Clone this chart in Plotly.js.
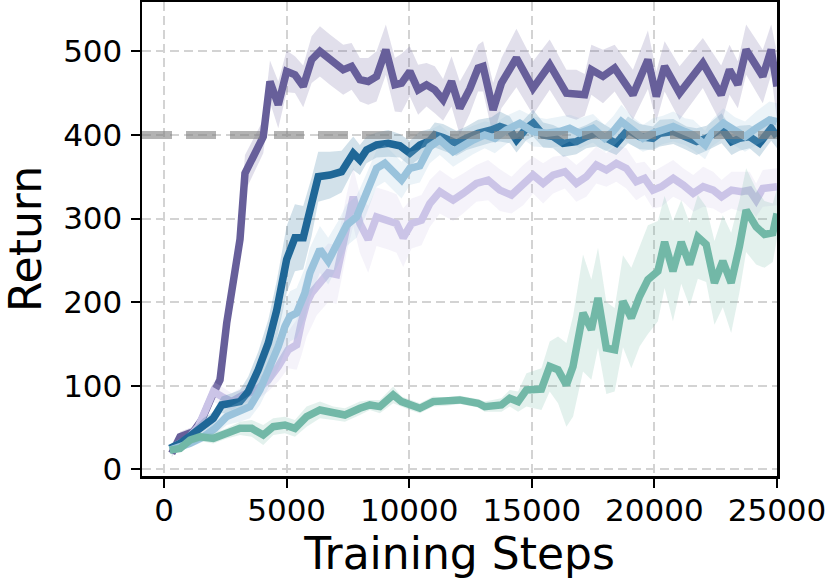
<!DOCTYPE html>
<html>
<head>
<meta charset="utf-8">
<script src="https://cdn.plot.ly/plotly-3.0.1.min.js"></script>
<style>
  html, body { margin: 0; padding: 0; background: #fff; }
  #chart { width: 830px; height: 582px; }
</style>
</head>
<body>
<div id="chart"></div>
<script>
// values
var xTicks = [0, 5000, 10000, 15000, 20000, 25000];
var yTicks = [0, 100, 200, 300, 400, 500];
var threshold = 400;

var purpleSteps = [313, 652, 1194, 1536, 2009, 2282, 2555, 2825, 3097, 3300,
  4046, 4319, 4658, 5000, 5338, 5676, 6019, 6357, 6764, 7307,
  7649, 7987, 8326, 8667, 9046, 9413, 9686, 10024, 10363, 10705,
  11043, 11381, 11724, 12062, 12469, 12808, 13012, 13420, 13761, 14372,
  15049, 15729, 16410, 16817, 17155, 17428, 17902, 18378, 19124, 19735,
  20077, 20416, 21026, 21976, 22722, 23064, 23402, 23741, 24420, 24763,
  25000];
var purpleReturn = [19, 39, 45, 59, 91, 107, 175, 223, 275, 354,
  398, 464, 436, 476, 472, 458, 490, 500, 490, 478,
  482, 466, 464, 470, 502, 460, 462, 476, 454, 460,
  454, 442, 464, 432, 455, 480, 482, 430, 462, 492,
  456, 484, 450, 448, 448, 478, 470, 480, 448, 490,
  446, 482, 450, 486, 448, 478, 460, 502, 470, 502,
  458];
var purpleSpread = [5, 6, 6, 8, 10, 12, 14, 16, 20, 22,
  20, 25, 28, 25, 22, 25, 28, 30, 30, 30,
  28, 26, 28, 30, 30, 32, 35, 30, 30, 26,
  28, 25, 30, 32, 30, 28, 30, 32, 30, 35,
  32, 30, 28, 30, 25, 30, 32, 28, 30, 35,
  30, 30, 32, 30, 35, 30, 28, 30, 32, 30,
  40];

var darkSteps = [237, 652, 1195, 1602, 2009, 2350, 2758, 3097, 3435, 3842,
  4250, 4592, 5000, 5338, 5676, 6019, 6288, 6764, 7240, 7716,
  7987, 8260, 8667, 9141, 9617, 10024, 10432, 10840, 11043, 11381,
  11925, 12333, 12808, 13353, 13696, 14104, 14375, 14782, 15053, 15461,
  15868, 16276, 16817, 17224, 17632, 18039, 18447, 18922, 19397, 19940,
  20225, 20768, 21311, 21719, 22127, 22738, 23145, 23471, 23879, 24286,
  24763, 25000];
var darkReturn = [25, 31, 43, 53, 61, 77, 79, 81, 93, 119,
  151, 190, 251, 277, 277, 314, 350, 352, 356, 378,
  370, 382, 388, 390, 387, 378, 388, 393, 400, 397,
  390, 396, 402, 406, 410, 406, 394, 408, 414, 400,
  398, 390, 392, 398, 402, 396, 390, 406, 398, 396,
  402, 404, 396, 392, 396, 408, 392, 396, 398, 390,
  408, 398];
var darkSpread = [4, 5, 6, 8, 8, 10, 12, 14, 18, 22,
  28, 35, 40, 40, 38, 35, 30, 28, 25, 20,
  18, 16, 15, 16, 14, 15, 16, 14, 15, 16,
  15, 14, 16, 15, 18, 16, 15, 14, 16, 15,
  14, 16, 15, 14, 16, 15, 14, 16, 15, 14,
  16, 15, 14, 16, 15, 18, 16, 15, 14, 16,
  15, 14];

var lightSteps = [237, 1060, 1602, 2078, 2555, 3097, 3504, 3911, 4319, 4658,
  4930, 5134, 5407, 5745, 5949, 6357, 6696, 7103, 7445, 7853,
  8260, 8667, 9005, 9345, 9686, 10024, 10432, 10840, 11247, 11790,
  12197, 12605, 13080, 13489, 13965, 14508, 15053, 15595, 16138, 16545,
  16952, 17496, 17973, 18311, 18650, 19124, 19532, 19940, 20347, 20768,
  21243, 21583, 22065, 22338, 22811, 23288, 23696, 24150, 24694, 25000];
var lightReturn = [23, 31, 39, 49, 63, 69, 75, 95, 123, 147,
  171, 183, 187, 211, 235, 263, 249, 271, 292, 302,
  330, 360, 366, 356, 346, 360, 363, 386, 394, 380,
  388, 394, 400, 396, 406, 414, 404, 402, 404, 408,
  402, 408, 396, 404, 416, 404, 396, 402, 406, 410,
  404, 400, 388, 402, 414, 404, 398, 408, 418, 416];
var lightSpread = [4, 5, 6, 8, 10, 12, 14, 18, 22, 26,
  30, 30, 30, 30, 30, 28, 28, 26, 25, 25,
  24, 22, 22, 22, 22, 20, 20, 20, 18, 18,
  18, 17, 16, 18, 17, 16, 18, 17, 18, 16,
  18, 17, 16, 18, 20, 17, 16, 18, 17, 18,
  16, 18, 17, 16, 18, 17, 18, 20, 22, 22];

var lavSteps = [380, 924, 1398, 1738, 2009, 2350, 2758, 3232, 3775, 4250,
  4658, 5065, 5407, 5611, 5815, 6019, 6222, 6696, 7036, 7240,
  7445, 7716, 7987, 8326, 8667, 9141, 9481, 9753, 10093, 10500,
  10840, 11247, 11790, 12197, 12740, 13217, 13696, 14171, 14646, 15053,
  15461, 15868, 16345, 16817, 17224, 17632, 18039, 18447, 18854, 19260,
  19600, 19940, 20280, 20768, 21175, 21583, 21990, 22397, 22738, 23145,
  23553, 23879, 24150, 24420, 25000];
var lavReturn = [27, 35, 51, 75, 93, 87, 81, 89, 95, 107,
  123, 143, 149, 177, 199, 211, 219, 235, 233, 263,
  294, 326, 294, 275, 302, 298, 294, 277, 294, 298,
  318, 332, 322, 330, 342, 346, 334, 328, 340, 352,
  342, 352, 356, 342, 350, 364, 358, 366, 360, 344,
  348, 334, 338, 348, 340, 330, 338, 334, 326, 334,
  332, 334, 322, 336, 338];
var lavSpread = [5, 6, 8, 10, 12, 12, 10, 10, 12, 14,
  18, 22, 30, 40, 40, 40, 35, 35, 35, 35,
  35, 35, 35, 40, 35, 35, 35, 35, 30, 30,
  28, 26, 25, 24, 22, 24, 25, 22, 24, 22,
  24, 22, 20, 22, 24, 22, 20, 22, 24, 22,
  20, 22, 24, 22, 20, 22, 24, 22, 20, 22,
  24, 22, 20, 22, 22];

var tealSteps = [237, 652, 1060, 1467, 2009, 2555, 3097, 3572, 4046, 4454,
  4930, 5338, 5815, 6357, 6900, 7376, 7987, 8394, 8802, 9345,
  9686, 10024, 10432, 10975, 11517, 12062, 12808, 13080, 13761, 14100,
  14440, 14782, 15393, 15729, 16069, 16410, 16680, 17088, 17428, 17700,
  18039, 18378, 18718, 19058, 19397, 19735, 20142, 20416, 20756, 21094,
  21434, 21772, 22111, 22450, 22790, 23130, 23471, 23741, 24150, 24490,
  24829, 25000];
var tealReturn = [23, 25, 35, 39, 37, 43, 49, 49, 41, 51,
  53, 49, 63, 71, 67, 65, 73, 77, 75, 89,
  81, 77, 73, 81, 81, 83, 79, 75, 77, 85,
  81, 95, 96, 123, 119, 101, 123, 187, 167, 205,
  145, 143, 201, 181, 207, 227, 237, 272, 237, 272,
  245, 278, 269, 223, 249, 223, 267, 310, 290, 281,
  283, 306];
var tealSpread = [4, 4, 5, 5, 6, 6, 8, 10, 12, 10,
  10, 10, 12, 10, 8, 8, 8, 6, 8, 10,
  6, 6, 6, 6, 5, 5, 5, 6, 8, 10,
  12, 20, 25, 30, 40, 50, 60, 70, 60, 60,
  55, 50, 55, 60, 60, 65, 60, 55, 60, 50,
  50, 50, 45, 50, 55, 60, 55, 50, 45, 40,
  35, 30];

var series = [
  { steps: purpleSteps, mean: purpleReturn, spread: purpleSpread, color: "103,95,154" },
  { steps: lavSteps, mean: lavReturn, spread: lavSpread, color: "203,196,231" },
  { steps: darkSteps, mean: darkReturn, spread: darkSpread, color: "31,103,151" },
  { steps: lightSteps, mean: lightReturn, spread: lightSpread, color: "154,195,220" },
  { steps: tealSteps, mean: tealReturn, spread: tealSpread, color: "114,184,167" }
];

var traces = [];
series.forEach(function (s) {
  var upper = s.mean.map(function (v, i) { return v + s.spread[i]; });
  var lower = s.mean.map(function (v, i) { return v - s.spread[i]; });
  traces.push({
    x: s.steps.concat(s.steps.slice().reverse()),
    y: upper.concat(lower.slice().reverse()),
    type: "scatter",
    mode: "lines",
    fill: "toself",
    fillcolor: "rgba(" + s.color + ",0.2)",
    line: { width: 0 },
    hoverinfo: "skip",
    showlegend: false
  });
  traces.push({
    x: s.steps,
    y: s.mean,
    type: "scatter",
    mode: "lines",
    line: { color: "rgb(" + s.color + ")", width: 7.5 },
    showlegend: false
  });
});

var axisFont = { family: "DejaVu Sans", size: 31, color: "#000" };
var titleFont = { family: "DejaVu Sans", size: 44, color: "#000" };

var layout = {
  width: 830,
  height: 582,
  margin: { l: 142, r: 53, t: 2, b: 106 },
  paper_bgcolor: "#fff",
  plot_bgcolor: "#fff",
  showlegend: false,
  xaxis: {
    range: [-900, 25000],
    tickvals: xTicks,
    ticktext: xTicks.map(String),
    tickfont: axisFont,
    ticks: "outside",
    ticklen: 9,
    tickwidth: 2,
    tickcolor: "#000",
    ticklabelstandoff: -4,
    showline: true,
    mirror: true,
    linecolor: "#000",
    linewidth: 2.5,
    showgrid: true,
    gridcolor: "#d3d3d3",
    gridwidth: 2,
    griddash: "9px,5px",
    zeroline: false,
    automargin: false,
    title: { text: "Training Steps", font: titleFont, standoff: 6 }
  },
  yaxis: {
    range: [-8, 559],
    tickvals: yTicks,
    ticktext: yTicks.map(String),
    tickfont: axisFont,
    ticks: "outside",
    ticklen: 9,
    tickwidth: 2,
    tickcolor: "#000",
    ticklabelstandoff: 2,
    showline: true,
    mirror: true,
    linecolor: "#000",
    linewidth: 2.5,
    showgrid: true,
    gridcolor: "#d3d3d3",
    gridwidth: 2,
    griddash: "9px,5px",
    zeroline: false,
    automargin: false,
    title: { text: "Return", font: titleFont, standoff: 25 }
  },
  shapes: [{
    type: "line",
    xref: "paper",
    yref: "y",
    x0: 0,
    x1: 1,
    y0: threshold,
    y1: threshold,
    layer: "above",
    line: { color: "rgba(128,128,128,0.6)", width: 8, dash: "30px,14px" }
  }]
};

Plotly.newPlot("chart", traces, layout, { staticPlot: true, displayModeBar: false });
</script>
</body>
</html>
